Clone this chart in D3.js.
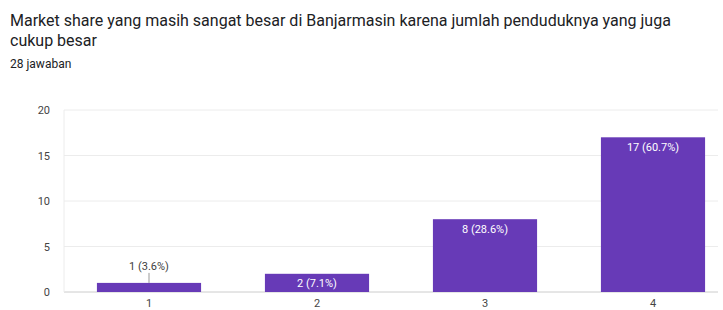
<!DOCTYPE html>
<html>
<head>
<meta charset="utf-8">
<script src="https://cdn.jsdelivr.net/npm/d3@7"></script>
<style>
  body { margin: 0; background: #fff; font-family: Roboto, Arial, sans-serif; }
</style>
</head>
<body>
<div id="chart"></div>
<script>
// data
const titleLines = [
  "Market share yang masih sangat besar di Banjarmasin karena jumlah penduduknya yang juga",
  "cukup besar"
];
const subtitle = "28 jawaban";
const categories = ["1", "2", "3", "4"];
const values = [1, 2, 8, 17];
const barLabels = ["1 (3.6%)", "2 (7.1%)", "8 (28.6%)", "17 (60.7%)"];
const yTicks = [0, 5, 10, 15, 20];

const width = 723, height = 310;
const svg = d3.select("#chart").append("svg")
  .attr("width", width).attr("height", height);

// title
svg.selectAll(".title").data(titleLines).enter().append("text")
  .attr("x", 10).attr("y", (d, i) => 26 + i * 20)
  .attr("font-size", 16).attr("fill", "#202124")
  .text(d => d);
svg.append("text").attr("x", 10).attr("y", 68)
  .attr("font-size", 12).attr("fill", "#202124").text(subtitle);

const x = d3.scaleBand().domain(categories).range([65, 737])
  .paddingInner(0.38).paddingOuter(0.19);
const y = d3.scaleLinear().domain([0, 20]).range([292, 110]);

// grid
svg.selectAll(".grid").data(yTicks).enter().append("line")
  .attr("x1", 64).attr("x2", 718)
  .attr("y1", d => y(d)).attr("y2", d => y(d))
  .attr("stroke", d => d === 0 ? "#cccccc" : "#ececec").attr("stroke-width", 1);
svg.append("line").attr("x1", 64).attr("x2", 64)
  .attr("y1", y(20)).attr("y2", y(0)).attr("stroke", "#ececec");

svg.selectAll(".ylab").data(yTicks).enter().append("text")
  .attr("x", 50).attr("y", d => y(d) + 4)
  .attr("text-anchor", "end").attr("font-size", 11).attr("fill", "#444")
  .text(d => d);

// bars
svg.selectAll(".bar").data(values).enter().append("rect")
  .attr("x", (d, i) => x(categories[i]))
  .attr("width", x.bandwidth())
  .attr("y", d => y(d))
  .attr("height", d => y(0) - y(d))
  .attr("fill", "#673ab7");

// bar labels
values.forEach((v, i) => {
  const cx = x(categories[i]) + x.bandwidth() / 2;
  const h = y(0) - y(v);
  if (h < 14) {
    svg.append("line").attr("x1", cx).attr("x2", cx)
      .attr("y1", y(v) - 10).attr("y2", y(v)).attr("stroke", "#999");
    svg.append("text").attr("x", cx).attr("y", y(v) - 13)
      .attr("text-anchor", "middle").attr("font-size", 11).attr("fill", "#404040")
      .text(barLabels[i]);
  } else {
    svg.append("text").attr("x", cx).attr("y", Math.min(y(v) + 14, y(v) + h / 2 + 4))
      .attr("text-anchor", "middle").attr("font-size", 11).attr("fill", "#fff")
      .text(barLabels[i]);
  }
});

// category labels
svg.selectAll(".xlab").data(categories).enter().append("text")
  .attr("x", d => x(d) + x.bandwidth() / 2).attr("y", 307)
  .attr("text-anchor", "middle").attr("font-size", 11).attr("fill", "#444")
  .text(d => d);
</script>
</body>
</html>
